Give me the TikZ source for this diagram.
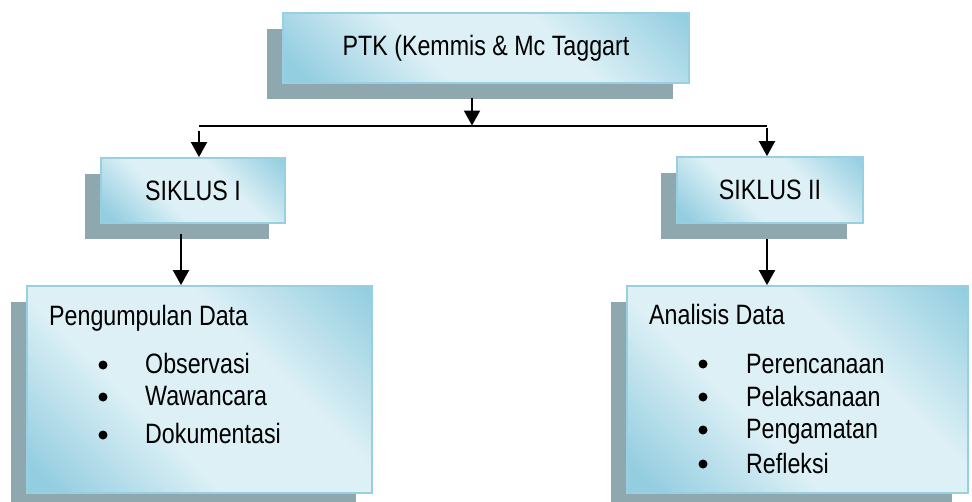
\documentclass[tikz,border=0pt]{standalone}
\usepackage{fontspec}
\setmainfont{Liberation Sans}[FakeStretch=0.83]
\usetikzlibrary{arrows.meta,shadows,calc}
\definecolor{boxlt}{HTML}{DDF0F6}
\definecolor{boxdk}{HTML}{92CDE0}
\definecolor{boxedge}{HTML}{98D0E1}
\definecolor{shadowc}{HTML}{8FA8AF}
\pgfdeclarehorizontalshading{boxshade}{100bp}{color(0bp)=(boxdk); color(18bp)=(boxdk); color(40bp)=(boxlt); color(62bp)=(boxlt); color(85bp)=(boxdk); color(100bp)=(boxdk)}
\tikzset{
  box/.style={rectangle, draw=boxedge, line width=1.8pt, shading=boxshade, shading angle=45,
    drop shadow={shadow xshift=-16pt, shadow yshift=-16pt, fill=shadowc, opacity=1},
    inner sep=0pt, font=\fontsize{28}{32}\selectfont},
  txt/.style={anchor=base west, inner sep=0pt, font=\fontsize{28}{32}\selectfont},
  dot/.style={circle, fill=black, inner sep=0pt, minimum size=9pt},
  arr/.style={line width=2pt, -{Triangle[width=16pt,length=15pt]}},
  bus/.style={line width=2pt}
}
\begin{document}
\begin{tikzpicture}[x=1pt,y=-1pt]
\useasboundingbox (0,0) rectangle (972,501);
% boxes
\node[box, minimum width=406pt, minimum height=70pt] (top) at (486,48) {PTK (Kemmis \& Mc Taggart};
\node[box, minimum width=184pt, minimum height=65pt] (s1) at (193,190.5) {SIKLUS I};
\node[box, minimum width=186pt, minimum height=66pt] (s2) at (770,190) {SIKLUS II};
\node[box, minimum width=345pt, minimum height=207pt] (pd) at (199.5,389.5) {};
\node[box, minimum width=341pt, minimum height=207pt,
  drop shadow={shadow xshift=-16pt, shadow yshift=-16pt, fill=shadowc, opacity=1, xscale=1.05}] (ad) at (797.5,389.5) {};
% left box text
\node[txt] (pdt) at (49,325) {Pengumpulan Data};
\node[dot] (b1) at (103,365) {};
\node[txt] (o1) at (145,373) {Observasi};
\node[dot] (b2) at (103,397) {};
\node[txt] (o2) at (145,405) {Wawancara};
\node[dot] (b3) at (103,435) {};
\node[txt] (o3) at (145,443) {Dokumentasi};
% right box text
\node[txt] (adt) at (649,324) {Analisis Data};
\node[dot] (c1) at (703,364) {};
\node[txt] (r1) at (746,373) {Perencanaan};
\node[dot] (c2) at (703,397) {};
\node[txt] (r2) at (746,406) {Pelaksanaan};
\node[dot] (c3) at (703,430) {};
\node[txt] (r3) at (746,438) {Pengamatan};
\node[dot] (c4) at (703,464) {};
\node[txt] (r4) at (746,473) {Refleksi};
% connectors
\coordinate (busL) at (199,125.5);
\coordinate (busM) at (472,125.5);
\coordinate (busR) at (767,125.5);
\coordinate (topout) at ($(top.south -| busM)+(0,14)$);
\coordinate (s1out) at ($(s1.south)+(-12,10)$);
\coordinate (s2out) at ($(s2.south)+(-3,15)$);
\draw[bus] (busL) -- (busR);
\draw[arr] (topout) -- (busM);
\draw[arr] ($(busL)+(0,5)$) -- (busL |- s1.north);
\draw[arr] ($(busR)+(0,2)$) -- (busR |- s2.north);
\draw[arr] (s1out) -- (s1out |- pd.north);
\draw[arr] (s2out) -- (s2out |- ad.north);
\end{tikzpicture}
\end{document}
